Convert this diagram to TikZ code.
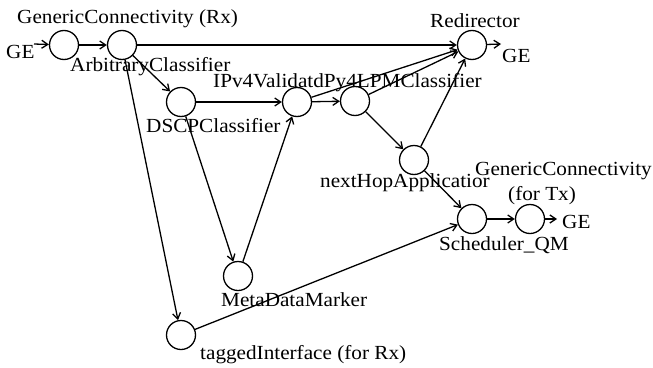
\documentclass[tikz,border=0pt]{standalone}
\usepackage{fontspec}
\setmainfont[FakeStretch=1.06]{Liberation Serif}
\usetikzlibrary{arrows.meta}
\begin{document}
\begin{tikzpicture}[x=1pt,y=-1pt,
  elem/.style={circle,draw,line width=1.3pt,minimum size=29pt,inner sep=0pt},
  lbl/.style={anchor=base west,inner sep=0pt,font=\fontsize{20}{22}\selectfont},
  link/.style={line width=1.3pt,-{Straight Barb[length=6pt,width=8pt,line width=1.3pt]}}]
\useasboundingbox (0,0) rectangle (653,367);

% elements
\node[elem] (gcrx)  at (64,45)   {};
\node[elem] (arb)   at (122,45)  {};
\node[elem] (dscp)  at (181,102) {};
\node[elem] (ipv4)  at (297,102) {};
\node[elem] (lpm)   at (355,101) {};
\node[elem] (redir) at (472,45)  {};
\node[elem] (nhop)  at (414,160) {};
\node[elem] (sched) at (472,219) {};
\node[elem] (gctx)  at (530,219) {};
\node[elem] (meta)  at (238,276) {};
\node[elem] (tagif) at (181,335) {};

% free ends
\coordinate (gein)   at (34,44);
\coordinate (geout)  at (501,44);
\coordinate (getx)   at (557,219);

% labels
\node[lbl] (tgcrx)  at (17,23)  {GenericConnectivity (Rx)};
\node[lbl] (tgein)  at (6,58)   {GE};
\node[lbl] (tarb)   at (70,71)  {ArbitraryClassifier};
\node[lbl] (tipv4)  at (213,87) {IPv4ValidatdPy4LPMClassifier};
\node[lbl] (tdscp)  at (146,132) {DSCPClassifier};
\node[lbl] (tredir) at (430,27) {Redirector};
\node[lbl] (tgeout) at (502,62) {GE};
\node[lbl] (tnhop)  at (320,187) {nextHopApplicatior};
\node[lbl,anchor=base east] (tgctx) at (652,175) {GenericConnectivity};
\node[lbl] (tfortx) at (508,200) {(for Tx)};
\node[lbl] (tgetx)  at (562,228) {GE};
\node[lbl] (tsched) at (439,250) {Scheduler\_QM};
\node[lbl] (tmeta)  at (221,306) {MetaDataMarker};
\node[lbl] (ttag)   at (200,359) {taggedInterface (for Rx)};

% connectors
\draw[link] (gein) -- (gcrx);
\draw[link] (gcrx) -- (arb);
\draw[link] (arb) -- (redir);
\draw[link] (arb) -- (dscp);
\draw[link] (arb) -- (tagif);
\draw[link] (dscp) -- (ipv4);
\draw[link] (dscp) -- (meta);
\draw[link] (meta) -- (ipv4);
\draw[link] (ipv4) -- (lpm);
\draw[link] (ipv4) -- (redir);
\draw[link] (lpm) -- (redir);
\draw[link] (lpm) -- (nhop);
\draw[link] (nhop) -- (redir);
\draw[link] (nhop) -- (sched);
\draw[link] (tagif) -- (sched);
\draw[link] (sched) -- (gctx);
\draw[link] (redir) -- (geout);
\draw[link] (gctx) -- (getx);
\end{tikzpicture}
\end{document}
